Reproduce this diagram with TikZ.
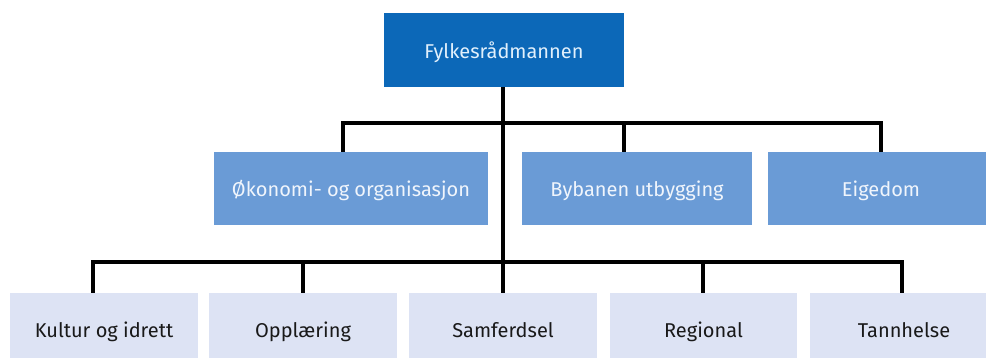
\documentclass[tikz,border=0pt]{standalone}
\usepackage{fontspec}
\setmainfont{Fira Sans}
\definecolor{topblue}{RGB}{12,104,184}
\definecolor{midblue}{RGB}{106,155,214}
\definecolor{lowblue}{RGB}{221,227,244}
\definecolor{toptext}{RGB}{225,240,252}
\definecolor{midtext}{RGB}{240,245,252}
\definecolor{lowtext}{RGB}{25,25,25}
\tikzset{
  boxfont/.style={font=\fontsize{20}{22}\selectfont, text height=17pt, text depth=0pt, inner sep=0pt},
  topbox/.style={fill=topblue, text=toptext, boxfont},
  midbox/.style={fill=midblue, text=midtext, boxfont},
  lowbox/.style={fill=lowblue, text=lowtext, boxfont},
  conn/.style={line width=4.5pt, draw=black}
}
\begin{document}
\begin{tikzpicture}[x=1pt,y=-1pt]
\useasboundingbox (0,0) rectangle (986,358);
\clip (0,0) rectangle (986,358);
\fill[white] (0,0) rectangle (986,358);
% top
\node[topbox, minimum width=240pt, minimum height=74pt] (top) at (504,50) {Fylkesrådmannen};
% middle
\node[midbox, minimum width=274pt, minimum height=73pt] (m1) at (351,188.5) {Økonomi- og organisasjon};
\node[midbox, minimum width=230pt, minimum height=73pt] (m2) at (637,188.5) {Bybanen utbygging};
\node[midbox, minimum width=226pt, minimum height=73pt] (m3) at (881,188.5) {Eigedom};
% bottom
\node[lowbox, minimum width=188pt, minimum height=72pt] (b1) at (104,329) {Kultur og idrett};
\node[lowbox, minimum width=188pt, minimum height=72pt] (b2) at (303,329) {Opplæring};
\node[lowbox, minimum width=188pt, minimum height=72pt] (b3) at (503,329) {Samferdsel};
\node[lowbox, minimum width=187pt, minimum height=72pt] (b4) at (703.5,329) {Regional};
\node[lowbox, minimum width=188pt, minimum height=72pt] (b5) at (904,329) {Tannhelse};
% connectors
\coordinate (j1) at (503,123);
\coordinate (j2) at (503,262);
\draw[conn] (top.south -| j1) -- (j2);
\draw[conn] (m1.north -| 343,0) -- (343,123) -- (881,123) -- (m3.north -| 881,0);
\draw[conn] (624,123) -- (m2.north -| 624,0);
\draw[conn] (b1.north -| 93,0) -- (93,262) -- (902,262) -- (b5.north -| 902,0);
\draw[conn] (303,262) -- (b2.north -| 303,0);
\draw[conn] (j2) -- (b3.north);
\draw[conn] (703,262) -- (b4.north -| 703,0);
\end{tikzpicture}
\end{document}
